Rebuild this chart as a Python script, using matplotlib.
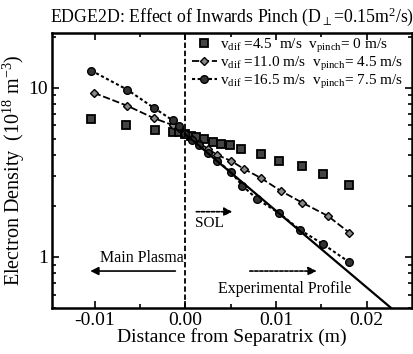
import numpy as np
import matplotlib
matplotlib.use('Agg')
import matplotlib.pyplot as plt
from matplotlib.ticker import FixedLocator, NullFormatter, LogLocator

plt.rcParams['font.family'] = ['Liberation Serif', 'DejaVu Serif']
plt.rcParams['mathtext.fontset'] = 'custom'
plt.rcParams['mathtext.rm'] = 'Liberation Serif'
plt.rcParams['mathtext.it'] = 'Liberation Serif:italic'

# v_dif = 4.5 m/s, v_pinch = 0 (squares)
sq_x = [-0.0104, -0.0065, -0.0034, -0.0014, -0.0007, 0.0, 0.0006, 0.0012,
        0.0020, 0.0030, 0.0039, 0.0049, 0.0061, 0.0083, 0.0103, 0.0129,
        0.0152, 0.0181]
sq_y = [6.5, 6.0, 5.6, 5.5, 5.45, 5.3, 5.2, 5.1, 4.95, 4.8, 4.65, 4.55,
        4.35, 4.05, 3.7, 3.45, 3.1, 2.67]

# v_dif = 11.0 m/s, v_pinch = 4.5 m/s (diamonds)
dm_x = [-0.0101, -0.0064, -0.0035, -0.0014, -0.0007, 0.0, 0.0007, 0.0015,
        0.0025, 0.0035, 0.0050, 0.0065, 0.0083, 0.0105, 0.0129, 0.0157,
        0.0181]
dm_y = [9.3, 7.8, 6.6, 6.0, 5.8, 5.3, 5.0, 4.7, 4.35, 4.0, 3.7, 3.3, 2.93,
        2.46, 2.09, 1.75, 1.39]

# v_dif = 16.5 m/s, v_pinch = 7.5 m/s (circles)
ci_x = [-0.0104, -0.0064, -0.0035, -0.0014, -0.0007, 0.0, 0.0007, 0.0015,
        0.0025, 0.0035, 0.0050, 0.0063, 0.0079, 0.0103, 0.0127, 0.0152,
        0.0181]
ci_y = [12.6, 9.7, 7.6, 6.4, 5.9, 5.3, 4.9, 4.6, 4.1, 3.7, 3.18, 2.63, 2.2,
        1.82, 1.44, 1.19, 0.93]

# experimental profile (straight line on log scale)
exp_x = [0.0, 0.0235]
exp_y = [5.3, 0.46]

fig = plt.figure(figsize=(4.14, 3.54), dpi=100)
ax = fig.add_axes([0.126, 0.13, 0.869, 0.777])

ax.plot(sq_x, sq_y, linestyle='none', marker='s', markersize=6,
        markerfacecolor='#444444', markeredgecolor='black', markeredgewidth=1.3,
        label=r'$\mathrm{v_{dif}}$ =4.5  m/s  $\mathrm{v_{pinch}}$= 0 m/s')
ax.plot(dm_x, dm_y, linestyle=(0, (4, 1.5)), color='black', linewidth=1.3,
        marker='D', markersize=4.5, markerfacecolor='#888888',
        markeredgecolor='black',
        label=r'$\mathrm{v_{dif}}$ =11.0 m/s  $\mathrm{v_{pinch}}$= 4.5 m/s')
ax.plot(ci_x, ci_y, linestyle=(0, (1.5, 1.2)), color='black', linewidth=1.5,
        marker='o', markersize=5.5, markerfacecolor='#333333',
        markeredgecolor='black',
        label=r'$\mathrm{v_{dif}}$ =16.5 m/s  $\mathrm{v_{pinch}}$= 7.5 m/s')
ax.plot(exp_x, exp_y, color='black', linewidth=1.6)

ax.axvline(0.0, color='black', linestyle=(0, (3, 1.5)), linewidth=1.3)

ax.set_yscale('log')
ax.set_xlim(-0.0147, 0.025)
ax.set_ylim(0.5, 21)
ax.xaxis.set_major_locator(FixedLocator([-0.01, 0.0, 0.01, 0.02]))
ax.xaxis.set_minor_locator(FixedLocator([-0.005, 0.005, 0.015]))
ax.set_xticklabels(['-0.01', '0.00', '0.01', '0.02'])
ax.yaxis.set_major_locator(FixedLocator([1, 10]))
ax.set_yticklabels(['1', '10'])
ax.yaxis.set_minor_locator(LogLocator(base=10, subs=np.arange(2, 10)))
ax.yaxis.set_minor_formatter(NullFormatter())
ax.tick_params(which='both', direction='in', top=True, right=True,
               labelsize=14, width=1.2)
ax.tick_params(which='major', length=5, pad=3)
ax.tick_params(which='minor', length=3)
for s in ax.spines.values():
    s.set_linewidth(1.8)

ax.set_xlabel('Distance from Separatrix (m)', fontsize=14, labelpad=-1)
ax.set_ylabel(r'Electron Density  (10$^{18}$ m$^{-3}$)', fontsize=14.5, labelpad=1)
ax.set_title(r'EDGE2D: Effect of Inwards Pinch (D$_{\perp}$=0.15m$^{2}$/s)',
             fontsize=12.8, pad=8)

ax.legend(loc='upper right', frameon=False, fontsize=11, handlelength=1.6,
          handletextpad=0.2, labelspacing=0.0, borderaxespad=0.2,
          bbox_to_anchor=(1.0, 1.02))

# annotations
ax.annotate('', xy=(0.0055, 1.85), xytext=(0.0009, 1.85),
            arrowprops=dict(arrowstyle='-|>', color='black', lw=1.2,
                            linestyle=(0, (2, 1)), mutation_scale=12))
ax.text(0.0011, 1.57, 'SOL', fontsize=11, ha='left', va='center')
ax.text(-0.0002, 0.98, 'Main Plasma', fontsize=11.5, ha='right', va='center')
ax.annotate('', xy=(-0.0108, 0.826), xytext=(-0.0008, 0.826),
            arrowprops=dict(arrowstyle='-|>', color='black', lw=1.2,
                            mutation_scale=12))
ax.annotate('', xy=(0.0148, 0.826), xytext=(0.0068, 0.826),
            arrowprops=dict(arrowstyle='-|>', color='black', lw=1.2,
                            linestyle=(0, (2, 1)), mutation_scale=12))
ax.text(0.0110, 0.647, 'Experimental Profile', fontsize=11.5, ha='center',
        va='center')

fig.savefig('out.png', dpi=100)
